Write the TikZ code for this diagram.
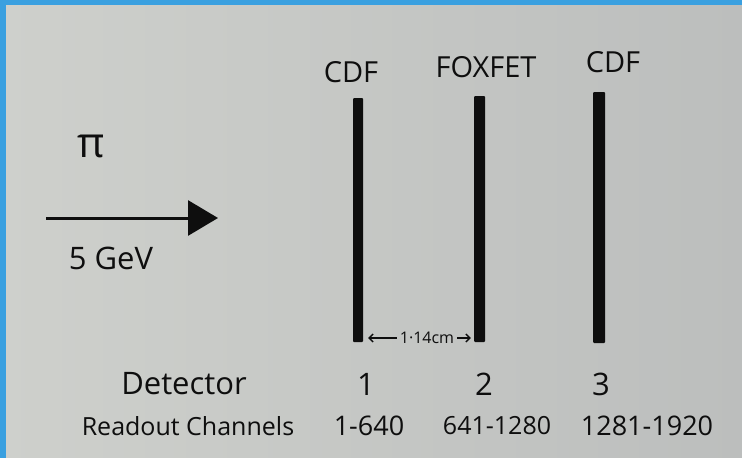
\documentclass[tikz,border=0pt]{standalone}
\usepackage{fontspec}
\setmainfont{Open Sans}
\definecolor{paper1}{RGB}{206, 208, 204}
\definecolor{paper2}{RGB}{188, 190, 189}
\definecolor{frameblue}{RGB}{58, 160, 224}
\definecolor{ink1}{RGB}{14, 14, 14}
\usetikzlibrary{arrows.meta, positioning, calc}

\begin{document}
\begin{tikzpicture}[x=1pt, y=-1pt, every node/.style={font=\fontsize{27}{32}\selectfont, text=ink1, inner sep=0pt},
  detbar/.style={fill=ink1, rounded corners=1pt, inner sep=0pt},
  toplabel/.style={font=\fontsize{29}{32}\selectfont},
  gaplabel/.style={font=\fontsize{16}{18}\selectfont},
  gaparrow/.style={draw=ink1, line width=1.3pt, -{Straight Barb[length=4pt, width=8pt]}},
  beam/.style={draw=ink1, line width=3pt, -{Triangle[length=30pt, width=35pt]}}]
  \useasboundingbox (0,0) rectangle (742,458);
  \shade[left color=paper1, right color=paper2] (0,0) rectangle (742,458);
  \fill[frameblue] (0,0) rectangle (742,5);
  \fill[frameblue] (0,0) rectangle (6,458);
  % detector planes
  \node[detbar, minimum width=10pt, minimum height=244pt] (det1) at (358,220) {};
  \node[detbar, minimum width=11pt, minimum height=246pt] (det2) at (479.5,219) {};
  \node[detbar, minimum width=12pt, minimum height=251pt] (det3) at (599,217.5) {};
  \node[toplabel] (type1) at (351,72) {CDF};
  \node[toplabel] (type2) at (486,67) {FOXFET};
  \node[toplabel] (type3) at (613,62) {CDF};
  % spacing between 1 and 2
  \node[gaplabel] (gap) at (427,338) {1·14cm};
  \draw[gaparrow] ([xshift=-3pt]gap.west) -- ([xshift=5pt]det1.east |- gap.west);
  \draw[gaparrow] ([xshift=3pt]gap.east) -- ([xshift=-3pt]det2.west |- gap.east);
  % incoming pion
  \coordinate (beamstart) at (46,218);
  \coordinate (beamend) at (218,218);
  \draw[beam] (beamstart) -- (beamend);
  \node[font=\fontsize{42}{44}\selectfont] (pion) at (91,146) {π};
  \node[font=\fontsize{31}{36}\selectfont] (energy) at (111,258) {5 GeV};
  % table below
  \node[font=\fontsize{31}{36}\selectfont] (dethead) at (184,384) {Detector};
  \node[font=\fontsize{31}{36}\selectfont] (num1) at (366,384) {1};
  \node[font=\fontsize{31}{36}\selectfont] (num2) at (484,384) {2};
  \node[font=\fontsize{31}{36}\selectfont] (num3) at (601,384) {3};
  \node[font=\fontsize{25}{30}\selectfont] (chanhead) at (188,426) {Readout Channels};
  \node (chan1) at (369,426) {1-640};
  \node[font=\fontsize{25}{30}\selectfont] (chan2) at (497,426) {641-1280};
  \node (chan3) at (647,426) {1281-1920};
\end{tikzpicture}
\end{document}
